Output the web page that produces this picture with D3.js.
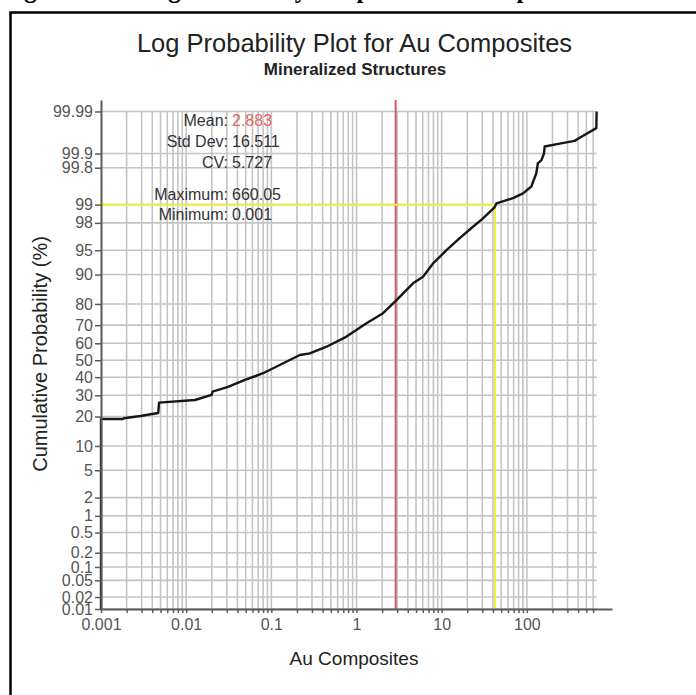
<!DOCTYPE html>
<html>
<head>
<meta charset="utf-8">
<script src="https://cdn.jsdelivr.net/npm/d3@7"></script>
<style>
  body { margin: 0; background: #fff; }
  text { font-family: "Liberation Sans", Arial, sans-serif; }
</style>
</head>
<body>
<script>
// grade values (Au) and their cumulative probability (%)
const auValues = [0.001, 0.001, 0.0018, 0.00186, 0.0029, 0.0047, 0.0048, 0.0127, 0.0199, 0.0204,
    0.031, 0.049, 0.080, 0.138, 0.216, 0.283, 0.445, 0.764, 1.31, 2.05,
    2.95, 4.61, 6.04, 7.92, 11.4, 16.3, 23.3, 30.6, 42.0, 44.0,
    68.8, 90.2, 113, 129, 135, 148, 159, 162, 243, 364, 417, 655, 660.05];
const cumProb = [0.01, 19.0, 19.0, 19.3, 20.2, 21.5, 26.3, 27.6, 30.2, 31.9,
    34.5, 38.4, 42.3, 48.2, 53.1, 54.1, 58.0, 63.8, 71.0, 75.9,
    81.6, 87.5, 89.4, 92.6, 95.0, 96.6, 97.7, 98.3, 98.9, 99.05,
    99.23, 99.37, 99.53, 99.74, 99.84, 99.86, 99.90, 99.93, 99.94, 99.948, 99.956, 99.974, 99.99];

const yTickValues = [0.01, 0.02, 0.05, 0.1, 0.2, 0.5, 1, 2, 5, 10, 20, 30, 40, 50, 60, 70, 80, 90, 95, 98, 99, 99.8, 99.9, 99.99];
const xMajorLabels = ["0.001", "0.01", "0.1", "1", "10", "100"];

const statLabels = ["Mean:", "Std Dev:", "CV:", "Maximum:", "Minimum:"];
const statValues = ["2.883", "16.511", "5.727", "660.05", "0.001"];

const meanValue = 2.883;
const p99Value = 42.3;
const maxValue = 660.05;
const minValue = 0.001;

// inverse normal cdf (Acklam)
function probit(p) {
    const a = [-3.969683028665376e+01, 2.209460984245205e+02, -2.759285104469687e+02, 1.383577518672690e+02, -3.066479806614716e+01, 2.506628277459239e+00];
    const b = [-5.447609879822406e+01, 1.615858368580409e+02, -1.556989798598866e+02, 6.680131188771972e+01, -1.328068155288572e+01];
    const c = [-7.784894002430293e-03, -3.223964580411365e-01, -2.400758277161838e+00, -2.549732539343734e+00, 4.374664141464968e+00, 2.938163982698783e+00];
    const d = [7.784695709041462e-03, 3.224671290700398e-01, 2.445134137142996e+00, 3.754408661907416e+00];
    const pl = 0.02425;
    let q, r;
    if (p < pl) {
        q = Math.sqrt(-2 * Math.log(p));
        return (((((c[0] * q + c[1]) * q + c[2]) * q + c[3]) * q + c[4]) * q + c[5]) / ((((d[0] * q + d[1]) * q + d[2]) * q + d[3]) * q + 1);
    }
    if (p <= 1 - pl) {
        q = p - 0.5; r = q * q;
        return (((((a[0] * r + a[1]) * r + a[2]) * r + a[3]) * r + a[4]) * r + a[5]) * q / (((((b[0] * r + b[1]) * r + b[2]) * r + b[3]) * r + b[4]) * r + 1);
    }
    q = Math.sqrt(-2 * Math.log(1 - p));
    return -(((((c[0] * q + c[1]) * q + c[2]) * q + c[3]) * q + c[4]) * q + c[5]) / ((((d[0] * q + d[1]) * q + d[2]) * q + d[3]) * q + 1);
}

const W = 696, H = 695;
const svg = d3.select("body").append("svg").attr("width", W).attr("height", H);

// cropped caption above the frame (only descenders visible)
svg.append("text")
    .attr("x", 2).attr("y", -2)
    .style("font-family", "'Liberation Serif', 'Times New Roman', serif")
    .style("font-weight", "bold").style("font-size", "25px")
    .attr("fill", "#000")
    .text("Figure 14-8: Log Probability Graph for Au Composites \u2013 Mineralized Structures");

// frame
svg.append("path")
    .attr("d", `M10.5,${H}V12.5H${W}`)
    .attr("fill", "none").attr("stroke", "#000").attr("stroke-width", 2.5);

// scales
const x = d3.scaleLog().domain([0.001, 1000]).range([101, 612]);
const y = d3.scaleLinear().domain([probit(0.0001), probit(0.99995)]).range([609, 100]);
const yp = p => y(probit(p / 100));

// x grid values 1..9 per decade
let xGridValues = [];
for (let k = -3; k <= 2; k++) {
    for (let m = 1; m <= 9; m++) {
        const v = m * Math.pow(10, k);
        if (v <= 600) xGridValues.push(+v.toPrecision(3));
    }
}

const grid = svg.append("g");
grid.selectAll(".vg").data(xGridValues.filter(v => v > minValue)).join("line")
    .attr("x1", d => x(d)).attr("x2", d => x(d))
    .attr("y1", yp(99.99)).attr("y2", yp(0.01))
    .attr("stroke", "#c4c4c4").attr("stroke-width", 1.6);
grid.selectAll(".hg").data(yTickValues).join("line")
    .attr("x1", x(minValue)).attr("x2", x(maxValue))
    .attr("y1", d => yp(d)).attr("y2", d => yp(d))
    .attr("stroke", "#c4c4c4").attr("stroke-width", 1.6);

// mean line
svg.append("line")
    .attr("x1", x(meanValue)).attr("x2", x(meanValue))
    .attr("y1", y.range()[1]).attr("y2", y.range()[0])
    .attr("stroke", "#d45c5c").attr("stroke-width", 2);

// 99th percentile lines
svg.append("line")
    .attr("x1", x(minValue)).attr("x2", x(p99Value))
    .attr("y1", yp(99)).attr("y2", yp(99))
    .attr("stroke", "#f2ee3c").attr("stroke-width", 2);
svg.append("line")
    .attr("x1", x(p99Value)).attr("x2", x(p99Value))
    .attr("y1", yp(99)).attr("y2", yp(0.01))
    .attr("stroke", "#f2ee3c").attr("stroke-width", 2);

// curve
const pts = auValues.map((v, i) => [v, cumProb[i]]);
svg.append("path")
    .datum(pts)
    .attr("d", d3.line().x(d => x(d[0])).y(d => yp(d[1])))
    .attr("fill", "none").attr("stroke", "#161616").attr("stroke-width", 2.4)
    .attr("stroke-linejoin", "round");

// axes
const yAxis = svg.append("g")
    .attr("transform", `translate(${x(minValue)},0)`)
    .call(d3.axisLeft(y)
        .tickValues(yTickValues.map(v => probit(v / 100)))
        .tickFormat((d, i) => String(yTickValues[i]))
        .tickSize(6).tickPadding(2).tickSizeOuter(0));

const xAxis = svg.append("g")
    .attr("transform", `translate(0,${yp(0.01)})`)
    .call(d3.axisBottom(x)
        .tickValues(xGridValues)
        .tickFormat(d => {
            const k = Math.round(Math.log10(d));
            return Math.abs(d - Math.pow(10, k)) < 1e-9 ? xMajorLabels[k + 3] : "";
        })
        .tickSize(4).tickPadding(6).tickSizeOuter(0));

[yAxis, xAxis].forEach(ax => {
    ax.select(".domain").attr("stroke", "#5a5a5a").attr("stroke-width", 2);
    ax.selectAll(".tick line").attr("stroke", "#5a5a5a").attr("stroke-width", 1.5);
    ax.selectAll(".tick text").attr("fill", "#555").style("font-size", "16px")
        .style("font-family", "'Liberation Sans', Arial, sans-serif");
});

// titles
svg.append("text")
    .attr("x", 354.5).attr("y", 52).attr("text-anchor", "middle")
    .attr("fill", "#222").style("font-size", "25.5px")
    .text("Log Probability Plot for Au Composites");
svg.append("text")
    .attr("x", 355).attr("y", 75).attr("text-anchor", "middle")
    .attr("fill", "#222").style("font-size", "17px").style("font-weight", "bold")
    .text("Mineralized Structures");

svg.append("text")
    .attr("transform", "translate(47,354) rotate(-90)")
    .attr("text-anchor", "middle").attr("fill", "#222").style("font-size", "20px")
    .text("Cumulative Probability (%)");
svg.append("text")
    .attr("x", 354).attr("y", 665).attr("text-anchor", "middle")
    .attr("fill", "#222").style("font-size", "19px")
    .text("Au Composites");

// statistics
const statY = [126, 147, 168, 199.5, 219.5];
const stats = svg.append("g").style("font-size", "16px");
stats.selectAll(".sl").data(statLabels).join("text")
    .attr("x", 228).attr("y", (d, i) => statY[i]).attr("text-anchor", "end")
    .attr("fill", "#333").text(d => d);
stats.selectAll(".sv").data(statValues).join("text")
    .attr("x", 232).attr("y", (d, i) => statY[i])
    .attr("fill", (d, i) => i === 0 ? "#e06464" : "#333").text(d => d);
</script>
</body>
</html>
